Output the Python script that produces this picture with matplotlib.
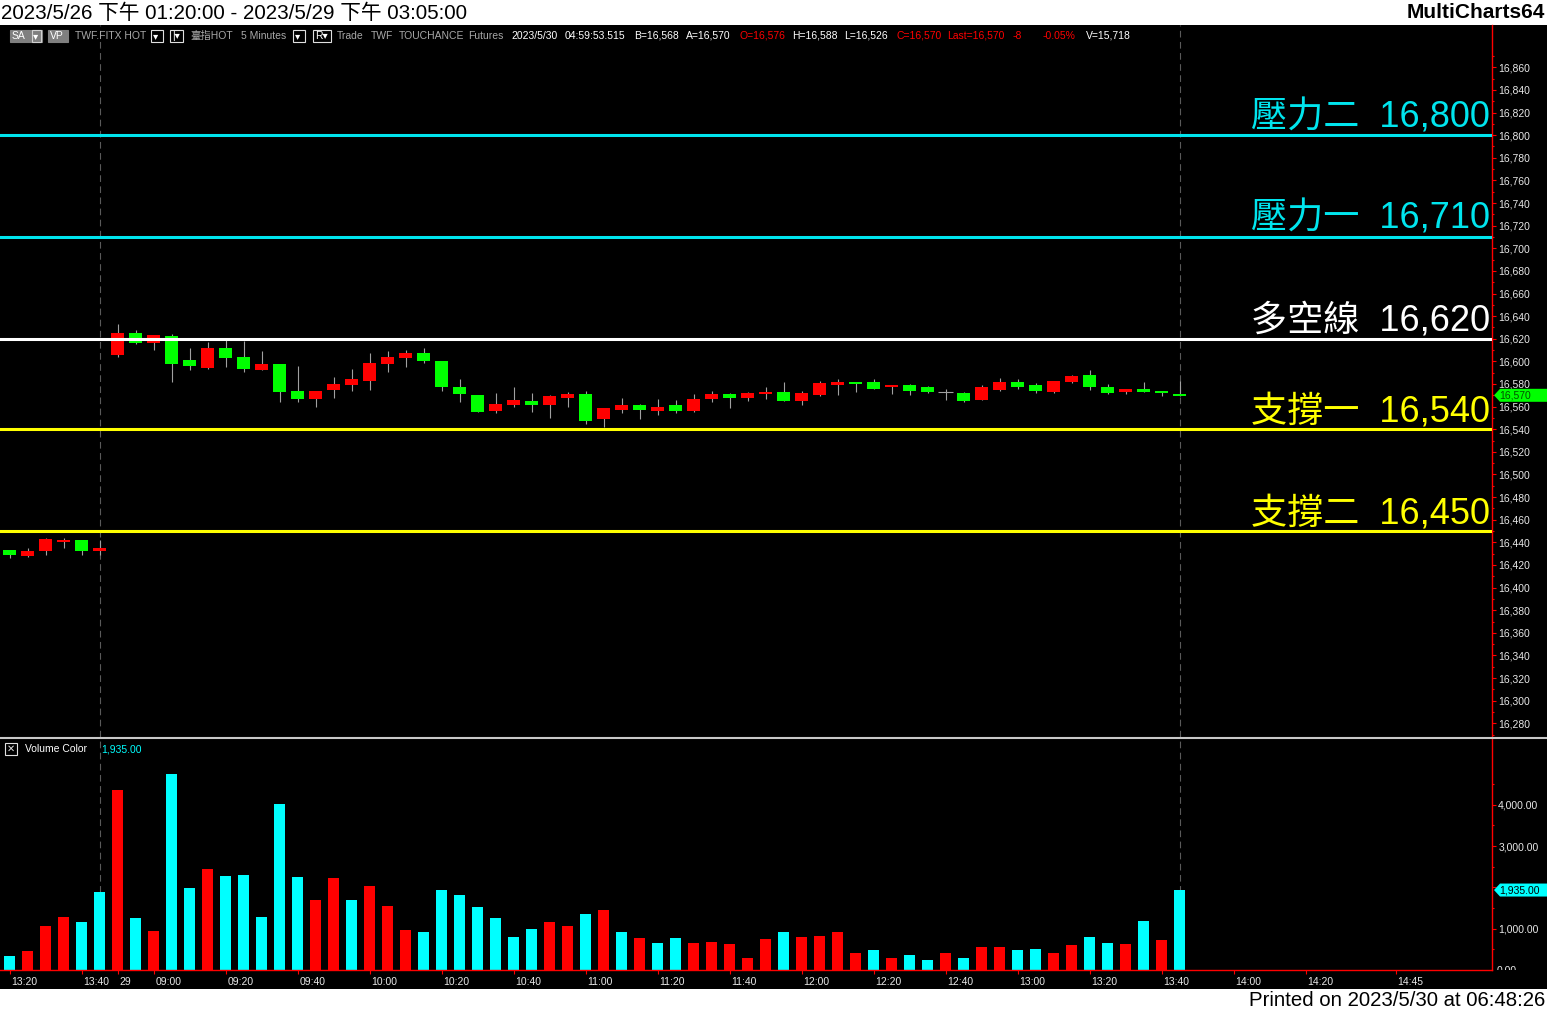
import numpy as np
import matplotlib
matplotlib.use('Agg')
import matplotlib.pyplot as plt
from matplotlib.patches import Polygon, Rectangle
from matplotlib.lines import Line2D
from matplotlib.ticker import FixedLocator, FuncFormatter
from matplotlib.transforms import Bbox, TransformedBbox, ScaledTranslation

W, H = 1547, 1011

# 5 minute bars: 5/26 13:20-13:45, then 5/29 08:50-13:45
opens = [16429, 16432, 16443, 16442, 16432, 16435,
         16625, 16616, 16623, 16598, 16596, 16612, 16603, 16593, 16598, 16573,
         16567, 16574, 16580, 16584, 16599, 16604, 16607, 16600, 16577, 16571,
         16555, 16562, 16566, 16561, 16569, 16571, 16547, 16559, 16561, 16557,
         16560, 16556, 16567, 16571, 16568, 16572, 16573, 16565, 16572, 16581,
         16582, 16580, 16576, 16579, 16574, 16573, 16573, 16565, 16577, 16582,
         16577, 16574, 16583, 16587, 16577, 16572, 16576, 16573, 16572, 16569]
highs = [16433, 16435, 16444, 16444, 16442, 16442,
         16633, 16628, 16623, 16624, 16612, 16617, 16621, 16618, 16609, 16598,
         16596, 16574, 16586, 16593, 16607, 16609, 16610, 16612, 16600, 16584,
         16570, 16572, 16577, 16572, 16570, 16573, 16574, 16559, 16568, 16562,
         16567, 16566, 16571, 16574, 16572, 16573, 16577, 16582, 16574, 16583,
         16584, 16582, 16584, 16579, 16580, 16578, 16576, 16573, 16579, 16585,
         16584, 16581, 16583, 16588, 16592, 16580, 16576, 16582, 16574, 16583]
lows = [16426, 16427, 16429, 16435, 16429, 16429,
        16604, 16615, 16610, 16582, 16592, 16593, 16595, 16591, 16592, 16564,
        16564, 16560, 16568, 16574, 16575, 16591, 16595, 16599, 16574, 16564,
        16555, 16554, 16560, 16555, 16550, 16560, 16545, 16542, 16554, 16549,
        16553, 16554, 16555, 16564, 16559, 16565, 16567, 16565, 16561, 16569,
        16570, 16573, 16576, 16571, 16570, 16572, 16566, 16564, 16566, 16574,
        16576, 16572, 16572, 16581, 16575, 16571, 16571, 16573, 16569, 16569]
closes = [16433, 16428, 16432, 16440, 16442, 16432,
          16606, 16625, 16616, 16622, 16601, 16594, 16612, 16604, 16592, 16598,
          16574, 16567, 16575, 16579, 16583, 16598, 16603, 16607, 16600, 16577,
          16570, 16556, 16561, 16565, 16561, 16568, 16571, 16549, 16557, 16561,
          16556, 16561, 16556, 16567, 16571, 16568, 16571, 16573, 16565, 16570,
          16579, 16582, 16582, 16577, 16579, 16577, 16573, 16572, 16566, 16575,
          16582, 16579, 16573, 16582, 16588, 16577, 16573, 16576, 16574, 16571]
volumes = [340, 460, 1065, 1285, 1160, 1890,
           4360, 1260, 945, 4745, 1985, 2445, 2275, 2300, 1285, 4020,
           2250, 1695, 2230, 1695, 2035, 1550, 970, 920, 1935, 1815,
           1525, 1260, 800, 995, 1160, 1065, 1355, 1455, 920, 775,
           655, 775, 655, 680, 630, 290, 750, 920, 800, 825,
           920, 410, 485, 290, 365, 240, 410, 290, 555, 555,
           485, 510, 410, 605, 800, 655, 630, 1185, 725, 1935]
# c = up volume (cyan), r = down volume (red)
vol_dir = "crrrccrcrc" "crcccccrrc" "rrrccccccc" "rrcrcrccrr" "rrrcrrrrcr" "ccrcrrccrr" "ccrcrc"

tick_pos = [0, 4, 6, 8, 12, 16, 20, 24, 28, 32, 36, 40, 44, 48, 52, 56, 60, 64, 68, 72, 77]
tick_lab = ["13:20", "13:40", "29", "09:00", "09:20", "09:40", "10:00", "10:20", "10:40",
            "11:00", "11:20", "11:40", "12:00", "12:20", "12:40", "13:00", "13:20", "13:40",
            "14:00", "14:20", "14:45"]
session_ends = [5, 65]

levels = [16800, 16710, 16620, 16540, 16450]
level_names = ["壓力二", "壓力一", "多空線", "支撐一", "支撐二"]
level_colors = ['#00E5EE', '#00E5EE', '#FFFFFF', '#FFFF00', '#FFFF00']

last_price = 16570
last_vol = 1935

price_ticks = list(range(16280, 16861, 20))
vol_ticks = [1000, 2000, 3000, 4000]

FONT = ['Liberation Sans', 'Noto Sans CJK TC', 'DejaVu Sans']
plt.rcParams['font.family'] = FONT


def fx(x):
    return x / W


def fy(y):
    return 1 - y / H


fig = plt.figure(figsize=(W / 100, H / 100), dpi=100, facecolor='black')

# white bands top and bottom
fig.add_artist(Rectangle((0, fy(25)), 1, 25 / H, transform=fig.transFigure,
                         facecolor='white', edgecolor='none', zorder=0))
fig.add_artist(Rectangle((0, 0), 1, (H - 989) / H, transform=fig.transFigure,
                         facecolor='white', edgecolor='none', zorder=0))
fig.text(fx(1), fy(13), "2023/5/26 下午 01:20:00 - 2023/5/29 下午 03:05:00",
         fontsize=14.9, color='black', va='center', ha='left')
fig.text(fx(1545), fy(13), "MultiCharts64", fontsize=15, fontweight='bold',
         color='black', va='center', ha='right')
fig.text(fx(1545), fy(1000), "Printed on 2023/5/30 at 06:48:26", fontsize=14.7,
         color='black', va='center', ha='right')

ax = fig.add_axes([0, fy(737), fx(1492), (737 - 25) / H])
axv = fig.add_axes([0, fy(970), fx(1492), (970 - 739) / H])

o = np.array(opens)
h = np.array(highs)
l = np.array(lows)
c = np.array(closes)
idx = np.arange(len(o))

for a in (ax, axv):
    a.set_facecolor('black')
    a.set_xlim(-0.528, 82.36)
    for s in ['top', 'left', 'bottom']:
        a.spines[s].set_visible(False)
    a.spines['right'].set_color('#FF0000')
    a.spines['right'].set_linewidth(1)
    a.yaxis.tick_right()
    for s in session_ends:
        a.axvline(s, color='#5A5A5A', lw=0.8, ls=(0, (6, 4)), zorder=1)

# candles
ax.vlines(idx, l, h, color='#A0A0A0', lw=0.8, zorder=2)
up = c > o
dn = c < o
eq = c == o
ax.bar(idx[up], (c - o)[up], bottom=o[up], width=0.72, color='#00FF00', linewidth=0, zorder=3)
ax.bar(idx[dn], (o - c)[dn], bottom=c[dn], width=0.72, color='#FF0000', linewidth=0, zorder=3)
ax.hlines(o[eq], idx[eq] - 0.4, idx[eq] + 0.4, color='#A0A0A0', lw=0.8, zorder=3)

for lv, nm, col in zip(levels, level_names, level_colors):
    ax.axhline(lv, color=col, lw=2.2, zorder=4)
    ax.annotate(f"{nm}  {lv:,}", xy=(1, lv), xycoords=('axes fraction', 'data'),
                xytext=(-2, 8), textcoords='offset pixels', ha='right', va='baseline',
                fontsize=26, fontweight='light', color=col, zorder=5)

ax.set_ylim(16267.9, 16897.4)
ax.set_xticks([])
ax.yaxis.set_major_locator(FixedLocator(price_ticks))
ax.yaxis.set_minor_locator(FixedLocator(list(range(16270, 16871, 20))))
ax.yaxis.set_major_formatter(FuncFormatter(lambda v, p: f"{v:,.0f}"))
ax.tick_params(axis='y', which='major', colors='#FF0000', labelcolor='#E8E8E8',
               length=3, width=0.8, pad=1.5, labelsize=7.5)
ax.tick_params(axis='y', which='minor', colors='#FF0000', length=1.5, width=0.8)

# volume
vcols = ['#00FFFF' if d == 'c' else '#FF0000' for d in vol_dir]
axv.bar(idx, volumes, width=0.61, color=vcols, linewidth=0, zorder=2)
axv.set_ylim(0, 5590)
axv.spines['bottom'].set_visible(True)
axv.spines['bottom'].set_color('#FF0000')
axv.spines['bottom'].set_linewidth(1)
axv.yaxis.set_major_locator(FixedLocator(vol_ticks))
axv.yaxis.set_minor_locator(FixedLocator([500, 1500, 2500, 3500, 4500]))
axv.yaxis.set_major_formatter(FuncFormatter(lambda v, p: f"{v:,.2f}"))
axv.tick_params(axis='y', which='major', colors='#FF0000', labelcolor='#E8E8E8',
                length=3, width=0.8, pad=1.5, labelsize=7.5)
axv.tick_params(axis='y', which='minor', colors='#FF0000', length=1.5, width=0.8)
axv.set_xticks(tick_pos)
axv.set_xticklabels(tick_lab, ha='left')
axv.tick_params(axis='x', colors='#FF0000', labelcolor='#E8E8E8', length=3, width=0.8,
                pad=2, labelsize=7.5)
for lab in axv.get_xticklabels():
    lab.set_transform(lab.get_transform() + ScaledTranslation(2 / 100, 0, fig.dpi_scale_trans))

# clipped 0.00 label
t0 = fig.text(fx(1497), fy(971), "0.00", fontsize=7.5, color='#E8E8E8', va='center', ha='left')
t0.set_clip_box(TransformedBbox(Bbox.from_extents(0, fy(970), 1, 1), fig.transFigure))
t0.set_clip_on(True)

# panel separator
fig.add_artist(Line2D([0, 1], [fy(738), fy(738)], transform=fig.transFigure,
                      color='#C8C8C8', lw=1.5))

# last value markers
def marker(yc, text, fc, tc):
    pts = [(1494, yc), (1500, yc - 6.5), (1547, yc - 6.5), (1547, yc + 6.5), (1500, yc + 6.5)]
    fig.add_artist(Polygon([(fx(x), fy(y)) for x, y in pts], closed=True,
                           transform=fig.transFigure, facecolor=fc, edgecolor='none', zorder=5))
    fig.text(fx(1499), fy(yc), text, fontsize=7.5, color=tc, va='center', ha='left', zorder=6)


y_last = ax.transData.transform((0, last_price))[1]
marker(H - y_last, f"{last_price:,}", '#00FF00', '#005000')
y_vol = axv.transData.transform((0, last_vol))[1]
marker(H - y_vol, f"{last_vol:,.2f}", '#00FFFF', '#000000')

# header row
def box(x0, x1, fc, ec):
    fig.add_artist(Rectangle((fx(x0), fy(42)), (x1 - x0) / W, 12 / H, transform=fig.transFigure,
                             facecolor=fc, edgecolor=ec, lw=0.8, zorder=5))


box(10, 42, '#7F7F7F', '#7F7F7F')
box(32, 41, '#7F7F7F', '#D0D0D0')
box(48, 68, '#7F7F7F', '#7F7F7F')
box(151, 163, 'black', '#E0E0E0')
box(170, 183, 'black', '#E0E0E0')
box(293, 305, 'black', '#E0E0E0')
box(313, 331, 'black', '#E0E0E0')

header = [(12, "SA", '#FFFFFF'), (33, "▾", '#FFFFFF'), (50, "VP", '#FFFFFF'),
          (75, "TWF.FITX HOT", '#A8A8A8'), (153, "▾", '#FFFFFF'), (172, "|▾", '#FFFFFF'),
          (190, "臺指HOT", '#A8A8A8'), (241, "5 Minutes", '#A8A8A8'), (295, "▾", '#FFFFFF'),
          (315, "R▾", '#FFFFFF'), (337, "Trade", '#A8A8A8'), (371, "TWF", '#A8A8A8'),
          (399, "TOUCHANCE", '#A8A8A8'), (468, "Futures", '#A8A8A8'),
          (511, "2023/5/30", '#FFFFFF'), (565, "04:59:53.515", '#FFFFFF'),
          (634, "B=16,568", '#FFFFFF'), (686, "A=16,570", '#FFFFFF'),
          (740, "O=16,576", '#FF0000'), (792, "H=16,588", '#FFFFFF'),
          (844, "L=16,526", '#FFFFFF'), (896, "C=16,570", '#FF0000'),
          (947, "Last=16,570", '#FF0000'), (1013, "-8", '#FF0000'),
          (1043, "-0.05%", '#FF0000'), (1086, "V=15,718", '#FFFFFF')]
for x, s, col in header:
    fig.text(fx(x), fy(36), s, fontsize=7.5, color=col, va='center', ha='left', zorder=6,
             family=['Liberation Sans', 'Noto Sans CJK TC', 'DejaVu Sans'])

# volume title
fig.add_artist(Rectangle((fx(5), fy(755)), 12 / W, 12 / H, transform=fig.transFigure,
                         facecolor='black', edgecolor='#E0E0E0', lw=0.8, zorder=5))
fig.text(fx(11), fy(749), "✕", fontsize=7, color='#E0E0E0', va='center', ha='center',
         family='DejaVu Sans', zorder=6)
fig.text(fx(25), fy(749), "Volume Color", fontsize=7.5, color='#FFFFFF', va='center', ha='left')
fig.text(fx(101), fy(749), f"{last_vol:,.2f}", fontsize=7.5, color='#00FFFF', va='center', ha='left')

fig.savefig("out.png", dpi=100, facecolor='black')
